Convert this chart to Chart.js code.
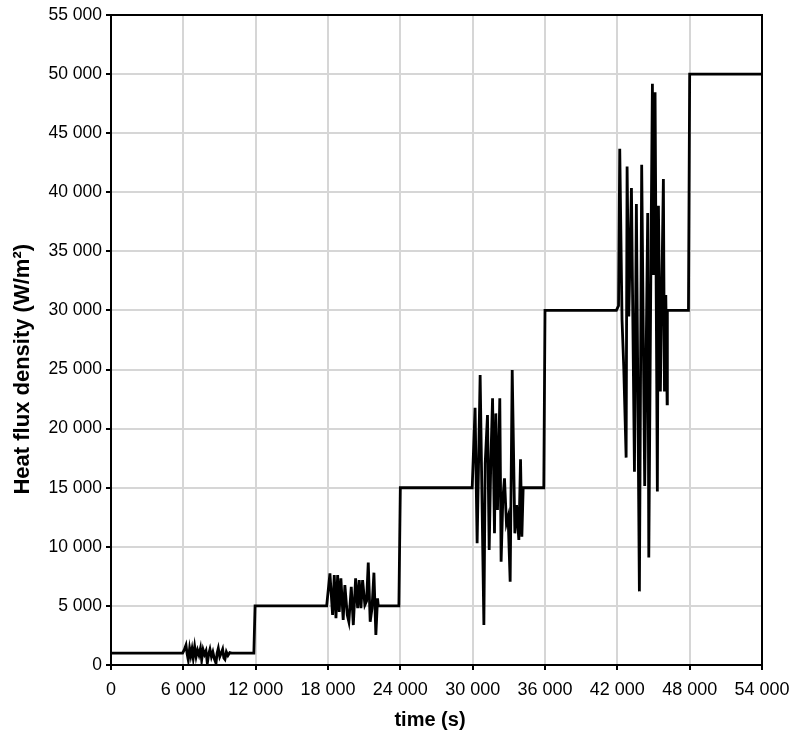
<!DOCTYPE html>
<html>
<head>
<meta charset="utf-8">
<script src="https://cdn.jsdelivr.net/npm/chart.js@4.4.1/dist/chart.umd.min.js"></script>
<style>
  html, body { margin: 0; padding: 0; background: #fff; }
  #wrap { width: 796px; height: 733px; }
</style>
</head>
<body>
<div id="wrap"><canvas id="flux-chart"></canvas></div>
<script>
// Values (time in s, heat flux density in W/m2)
const stage1Time = [0, 5940, 6080, 6220, 6320, 6410, 6520, 6620, 6720, 6820, 6940, 7060, 7180, 7300, 7420, 7520,
    7640, 7760, 7880, 7990, 8100, 8210, 8330, 8450, 8580, 8710, 8800, 8900, 9020, 9140, 9260, 9360, 9450,
    9570, 9700, 9850, 10000, 11850];
const stage1Flux = [1000, 1000, 1300, 1690, 900, 420, 1400, 800, 1350, 600, 1550, 700, 1250, 850, 1400, 420,
    1300, 900, 1200, 140, 900, 1330, 700, 1100, 500, 140, 1000, 1410, 700, 1000, 1330, 600, 480,
    1100, 800, 1050, 1000, 1000];

const stage2Time = [11950, 17890, 18160, 18380, 18520, 18660, 18800, 18930, 19070, 19260, 19400, 19600, 19730,
    19930, 20100, 20290, 20460, 20590, 20730, 20870, 21060, 21200, 21340, 21500, 21650, 21810, 21970,
    22110, 22170, 23880];
const stage2Flux = [5000, 5000, 7760, 4230, 7610, 3950, 7610, 4500, 7330, 3810, 6770, 4230, 3660,
    6620, 3380, 7330, 4800, 7190, 4800, 7190, 5080, 5400, 8660, 3660, 4800, 7810, 2540,
    5640, 5000, 5000];

const stage3Time = [24000, 29960, 30200, 30370, 30620, 30930, 31040, 31230, 31370, 31500, 31650, 31810, 31920,
    32060, 32250, 32360, 32500, 32640, 32800, 32940, 33110, 33280, 33500, 33640, 33830, 33970, 34080,
    34190, 35900];
const stage3Flux = [15000, 15000, 21770, 10300, 24530, 3380, 17060, 21150, 9730, 17000, 22560, 11140, 21290,
    13110, 22560, 8740, 14000, 15800, 12000, 12550, 7050, 24960, 11140, 13540, 10580, 17400, 10860,
    15000, 15000];

const stage4Time = [36000, 41920, 42100, 42200, 42390, 42530, 42730, 42810, 42950, 43170, 43420, 43580, 43830,
    44020, 44270, 44520, 44610, 44800, 44910, 45000, 45130, 45320, 45410, 45570, 45820, 45910, 46020,
    46130, 46150, 47900];
const stage4Flux = [30000, 30000, 30400, 43690, 29190, 25260, 17550, 42180, 29490, 40360, 16350, 39010, 6230,
    42330, 15140, 38250, 9090, 36130, 49190, 33000, 48470, 14690, 38860, 23150, 41120, 23150, 31300,
    22090, 30000, 30000];

const stage5Time = [48000, 54000];
const stage5Flux = [50000, 50000];

const xTitle = 'time (s)';
const yTitle = 'Heat flux density (W/m²)';

const allTime = [].concat(stage1Time, stage2Time, stage3Time, stage4Time, stage5Time);
const allFlux = [].concat(stage1Flux, stage2Flux, stage3Flux, stage4Flux, stage5Flux);
const points = allTime.map((t, i) => ({ x: t, y: allFlux[i] }));

// "6 000" style labels
const spaced = v => String(v).replace(/\B(?=(\d{3})+(?!\d))/g, ' ');

// Black frame round the plot area plus the two axis titles
const framePlugin = {
    id: 'frame',
    afterDraw(chart) {
        const a = chart.chartArea;
        const c = chart.ctx;
        c.save();
        c.strokeStyle = '#000';
        c.lineWidth = 2;
        c.strokeRect(a.left, a.top, a.right - a.left, a.bottom - a.top);

        c.fillStyle = '#000';
        c.font = 'bold 20px "Liberation Sans", Arial, sans-serif';
        c.textAlign = 'center';
        c.textBaseline = 'middle';
        c.fillText(xTitle, a.left + (a.right - a.left) * 0.49, a.bottom + 55);

        c.font = 'bold 22px "Liberation Sans", Arial, sans-serif';
        c.translate(23, a.top + (a.bottom - a.top) * 0.545);
        c.rotate(-Math.PI / 2);
        c.fillText(yTitle, 0, 0);
        c.restore();
    }
};

Chart.defaults.font.family = '"Liberation Sans", Arial, sans-serif';
Chart.defaults.color = '#000';

const ctx = document.getElementById('flux-chart').getContext('2d');
new Chart(ctx, {
    type: 'line',
    data: {
        datasets: [{
            data: points,
            borderColor: '#000',
            borderWidth: 2.8,
            pointRadius: 0,
            tension: 0,
            fill: false
        }]
    },
    options: {
        responsive: true,
        maintainAspectRatio: false,
        animation: false,
        layout: { padding: { top: 15, right: 34, left: 0, bottom: 0 } },
        plugins: {
            legend: { display: false },
            tooltip: { enabled: false }
        },
        scales: {
            x: {
                type: 'linear',
                min: 0,
                max: 54000,
                afterFit(scale) {
                    scale.height = 68;
                    scale.paddingLeft = 0;
                    scale.paddingRight = 0;
                },
                ticks: {
                    stepSize: 6000,
                    font: { size: 18 },
                    padding: 9,
                    maxRotation: 0,
                    callback: v => spaced(v)
                },
                grid: { color: '#d6d6d6', lineWidth: 2, tickColor: '#000', tickLength: 5 },
                border: { color: '#000', width: 2 }
            },
            y: {
                min: 0,
                max: 55000,
                afterFit(scale) { scale.width = 111; },
                ticks: {
                    stepSize: 5000,
                    font: { size: 17.5 },
                    padding: 4,
                    callback: v => spaced(v)
                },
                grid: { color: '#d6d6d6', lineWidth: 2, tickColor: '#000', tickLength: 5 },
                border: { color: '#000', width: 2 }
            }
        }
    },
    plugins: [framePlugin]
});
</script>
</body>
</html>
